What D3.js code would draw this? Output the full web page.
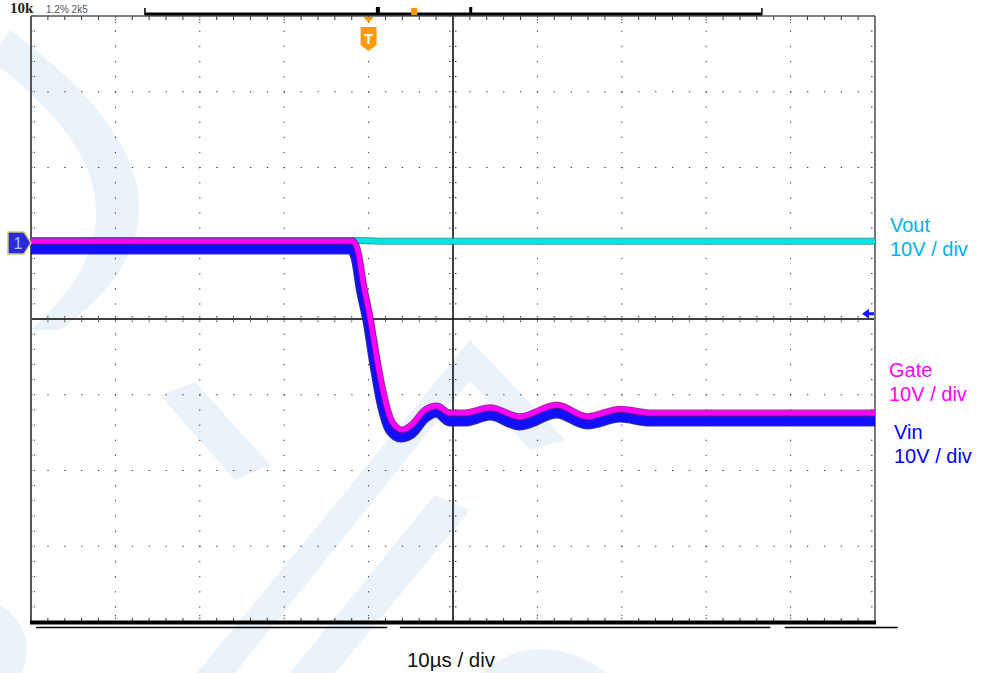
<!DOCTYPE html>
<html>
<head>
<meta charset="utf-8">
<script src="https://cdn.jsdelivr.net/npm/d3@7"></script>
<style>
  body { margin: 0; background: #fff; }
  svg { display: block; font-family: 'Liberation Sans', Arial, sans-serif; }
</style>
</head>
<body>
<div id="chart"></div>
<script>
// time in µs (trigger at 0), voltage in V (10 V / div, 10 µs / div)
let timeDomain = [-40, 60]
let voltDomain = [-40, 40]

let gateTime = [-40, -1.9, -1.3, -0.6, 0.2, 1.0, 1.8, 2.8, 4.0, 5.2, 6.7, 8.1, 9.6, 11.4, 14.4, 17.9, 22.3, 25.9, 29.8, 33.3, 60]
let gateVolts = [10.3, 10.3, 9.1, 4.5, 0, -5.4, -10.0, -13.6, -14.65, -13.9, -12.0, -11.5, -12.4, -12.4, -11.7, -12.9, -11.35, -12.9, -11.9, -12.4, -12.4]

let vinTime = [-40, -2.1, -1.5, -0.85, -0.05, 0.75, 1.55, 2.6, 3.8, 5.1, 6.6, 8.1, 9.6, 11.4, 14.4, 17.9, 22.3, 25.9, 29.8, 33.3, 60]
let vinVolts = [9.24, 9.24, 8.18, 3.83, -0.4, -6.07, -10.96, -14.65, -15.58, -15.05, -13.07, -12.28, -13.47, -13.47, -12.67, -13.99, -12.41, -13.86, -12.94, -13.47, -13.47]

let voutTime = [-40, -1.5, 3, 60]
let voutVolts = [10.35, 10.35, 10.25, 10.25]

let channels = [
  { name: 'Vout', scale: '10V / div', color: '#00b0f0' },
  { name: 'Gate', scale: '10V / div', color: '#ff00ff' },
  { name: 'Vin', scale: '10V / div', color: '#0000ff' }
]
let timeLabel = '10µs / div'

let margin = { top: 16, bottom: 51, left: 31, right: 107 }
let width = 982 - margin.left - margin.right
let height = 673 - margin.top - margin.bottom

let svg = d3
  .select('#chart')
  .append('svg')
  .attr('width', 982)
  .attr('height', 673)

// faint logo watermark behind the screen
let wm = svg.append('g').attr('fill', '#eaf2fa')
wm.append('path').attr('d', 'M10,30 Q240,200 60,330 L30,330 Q180,200 -10,60 Z')
wm.append('path').attr('d', 'M160,395 L195,382 L270,465 L235,480 Z')
wm.append('path').attr('d', 'M197,673 L235,673 L470,380 L530,450 L565,440 L470,340 Z')
wm.append('path').attr('d', 'M290,673 L335,673 L470,510 L435,495 Z')
wm.append('path').attr('d', 'M480,673 Q540,625 607,673 Z')
wm.append('path').attr('d', 'M0,605 Q38,630 22,673 L0,673 Z')

let g = svg.append('g').attr('transform', `translate(${margin.left},${margin.top})`)

let x = d3.scaleLinear().domain(timeDomain).range([0, width])
let y = d3.scaleLinear().domain(voltDomain).range([height, 0])

let majorX = d3.range(timeDomain[0], timeDomain[1] + 1, 10)
let majorY = d3.range(voltDomain[0], voltDomain[1] + 1, 10)
let minorX = d3.range(timeDomain[0], timeDomain[1] + 0.1, 2)
let minorY = d3.range(voltDomain[0], voltDomain[1] + 0.1, 2)

// dotted graticule
let dots = g.append('g').attr('fill', '#333')
majorX.slice(1, -1).filter(d => d !== 10).forEach(t => {
  dots.selectAll(null)
    .data(minorY)
    .enter()
    .append('rect')
    .attr('x', x(t) - 0.5)
    .attr('y', d => y(d) - 0.5)
    .attr('width', 1)
    .attr('height', 1.3)
})
majorY.slice(1, -1).filter(d => d !== 0).forEach(v => {
  dots.selectAll(null)
    .data(minorX)
    .enter()
    .append('rect')
    .attr('x', d => x(d) - 0.5)
    .attr('y', y(v) - 0.5)
    .attr('width', 1.3)
    .attr('height', 1)
})

// center cross with small ticks
g.append('line')
  .attr('x1', x(10)).attr('x2', x(10))
  .attr('y1', 0).attr('y2', height)
  .attr('stroke', '#000').attr('stroke-width', 1.5)
g.append('line')
  .attr('x1', 0).attr('x2', width)
  .attr('y1', y(0)).attr('y2', y(0))
  .attr('stroke', '#000').attr('stroke-width', 1.5)
g.selectAll('.ctick-x')
  .data(minorX)
  .enter()
  .append('line')
  .attr('x1', d => x(d)).attr('x2', d => x(d))
  .attr('y1', y(0) - 3).attr('y2', y(0) + 3)
  .attr('stroke', '#333').attr('stroke-width', 1).attr('stroke-dasharray', '1.5,3')
g.selectAll('.ctick-y')
  .data(minorY)
  .enter()
  .append('line')
  .attr('x1', x(10) - 4).attr('x2', x(10) + 4)
  .attr('y1', d => y(d)).attr('y2', d => y(d))
  .attr('stroke', '#333').attr('stroke-width', 1).attr('stroke-dasharray', '1.5,1.5')

// border ticks
g.selectAll('.btick')
  .data(minorX)
  .enter()
  .append('g')
  .each(function(d) {
    let len = d % 10 === 0 ? 7 : 4
    let t = d3.select(this)
    t.append('line')
      .attr('x1', x(d)).attr('x2', x(d))
      .attr('y1', 0).attr('y2', len)
      .attr('stroke', '#333').attr('stroke-width', 1)
      .attr('stroke-dasharray', d % 10 === 0 ? '1.5,1.5' : null)
    t.append('line')
      .attr('x1', x(d)).attr('x2', x(d))
      .attr('y1', height).attr('y2', height - len)
      .attr('stroke', '#333').attr('stroke-width', 1)
      .attr('stroke-dasharray', d % 10 === 0 ? '1.5,1.5' : null)
  })
g.selectAll('.stick')
  .data(minorY)
  .enter()
  .append('g')
  .each(function(d) {
    let t = d3.select(this)
    t.append('line')
      .attr('x1', 0).attr('x2', 4)
      .attr('y1', y(d)).attr('y2', y(d))
      .attr('stroke', '#333').attr('stroke-width', 1).attr('stroke-dasharray', '1.5,1.5')
    t.append('line')
      .attr('x1', width - 4).attr('x2', width)
      .attr('y1', y(d)).attr('y2', y(d))
      .attr('stroke', '#333').attr('stroke-width', 1).attr('stroke-dasharray', '1.5,1.5')
  })

// screen frame
g.append('line').attr('x1', 0).attr('x2', 0).attr('y1', 0).attr('y2', height)
  .attr('stroke', '#555').attr('stroke-width', 2)
g.append('line').attr('x1', width).attr('x2', width).attr('y1', 0).attr('y2', height)
  .attr('stroke', '#777').attr('stroke-width', 2)
g.append('line').attr('x1', 0).attr('x2', width).attr('y1', 0).attr('y2', 0)
  .attr('stroke', '#555').attr('stroke-width', 1.5)
g.append('line').attr('x1', -1).attr('x2', width + 1).attr('y1', height + 0.5).attr('y2', height + 0.5)
  .attr('stroke', '#000').attr('stroke-width', 4)

// segmented lines under the screen
let underSegs = [[-39.4, 2.2], [3.7, 47.6], [49.3, 62.7]]
g.selectAll('.under')
  .data(underSegs)
  .enter()
  .append('line')
  .attr('x1', d => x(d[0])).attr('x2', d => x(d[1]))
  .attr('y1', height + 5.5).attr('y2', height + 5.5)
  .attr('stroke', '#000').attr('stroke-width', 1.5)

// record-length bar on top
let topBar = [-26.5, 46.6]
g.append('line')
  .attr('x1', x(topBar[0])).attr('x2', x(topBar[1]))
  .attr('y1', -2).attr('y2', -2)
  .attr('stroke', '#000').attr('stroke-width', 3)
topBar.forEach(t => {
  g.append('line')
    .attr('x1', x(t)).attr('x2', x(t))
    .attr('y1', -8).attr('y2', -1)
    .attr('stroke', '#000').attr('stroke-width', 1.5)
})
g.append('rect').attr('x', x(1.1) - 2).attr('y', -9).attr('width', 4).attr('height', 6).attr('fill', '#000')
g.append('rect').attr('x', x(12.1) - 1.5).attr('y', -9).attr('width', 3).attr('height', 6).attr('fill', '#000')
g.append('rect').attr('x', x(5.4) - 3).attr('y', -8).attr('width', 6).attr('height', 7).attr('fill', '#ff9900')

svg.append('text')
  .attr('x', 10).attr('y', 13)
  .attr('font-family', 'Liberation Serif, serif')
  .attr('font-weight', 'bold')
  .attr('font-size', 15)
  .attr('fill', '#222')
  .text('10k')
svg.append('text')
  .attr('x', 46).attr('y', 13)
  .attr('font-size', 10)
  .attr('fill', '#555')
  .text('1.2% 2k5')

// traces (Vin under Gate so both stay visible on the edge)
let line = d3
  .line()
  .x(d => x(d[0]))
  .y(d => y(d[1]))
  .curve(d3.curveMonotoneX)

let traces = [
  { pts: d3.zip(voutTime, voutVolts), color: '#00e5e5', edge: '#008c8c', w: 5 },
  { pts: d3.zip(vinTime, vinVolts), color: '#1010ff', edge: '#000080', w: 9 },
  { pts: d3.zip(gateTime, gateVolts), color: '#ff00ff', edge: '#80007a', w: 5 }
]

let tg = g.append('g')
  .attr('fill', 'none')
  .attr('stroke-linejoin', 'round')

traces.forEach(tr => {
  tg.append('path')
    .attr('d', line(tr.pts))
    .attr('stroke', tr.edge)
    .attr('stroke-width', tr.w + 2)
    .attr('opacity', 0.8)
  tg.append('path')
    .attr('d', line(tr.pts))
    .attr('stroke', tr.color)
    .attr('stroke-width', tr.w)
})

// trigger marker
let trig = g.append('g').attr('transform', `translate(${x(0)},0)`)
trig.append('path').attr('d', 'M-5,1 L5,1 L0,7 Z').attr('fill', '#ff9900')
trig.append('path')
  .attr('d', 'M-8,11 L8,11 L8,29 L0,35 L-8,29 Z')
  .attr('fill', '#ff9900')
trig.append('text')
  .attr('x', 0).attr('y', 28)
  .attr('text-anchor', 'middle')
  .attr('font-size', 15)
  .attr('font-weight', 'bold')
  .attr('fill', '#fff')
  .text('T')

// channel 1 level marker on the left
let m1 = svg.append('g').attr('transform', `translate(0,${margin.top + y(vinVolts[0]) - 6})`)
m1.append('path')
  .attr('d', 'M8,-11 L24,-11 L31,0 L24,11 L8,11 Z')
  .attr('fill', '#2a2ad8')
  .attr('stroke', '#c8c890')
  .attr('stroke-width', 1.5)
m1.append('text')
  .attr('x', 18).attr('y', 6)
  .attr('text-anchor', 'middle')
  .attr('font-size', 16)
  .attr('fill', '#b8c0e0')
  .text('1')

// ground reference arrow on the right
let gr = g.append('g').attr('transform', `translate(${width - 1},${y(0.7)})`)
gr.append('path').attr('d', 'M-12,0 L-5,-5 L-5,-1.5 L0,-1.5 L0,1.5 L-5,1.5 L-5,5 Z').attr('fill', '#1a1aff')

// channel labels
let labelPos = [
  { x: 890, y: 232 },
  { x: 889, y: 377 },
  { x: 894, y: 439 }
]
channels.forEach((c, i) => {
  let t = svg.append('text')
    .attr('x', labelPos[i].x)
    .attr('y', labelPos[i].y)
    .attr('font-size', 20)
    .attr('fill', c.color)
  t.append('tspan').text(c.name)
  t.append('tspan')
    .attr('x', labelPos[i].x)
    .attr('dy', 24)
    .text(c.scale)
})

svg.append('text')
  .attr('x', margin.left + x(10) - 2)
  .attr('y', 667)
  .attr('text-anchor', 'middle')
  .attr('font-size', 20.5)
  .attr('fill', '#111')
  .text(timeLabel)
</script>
</body>
</html>
